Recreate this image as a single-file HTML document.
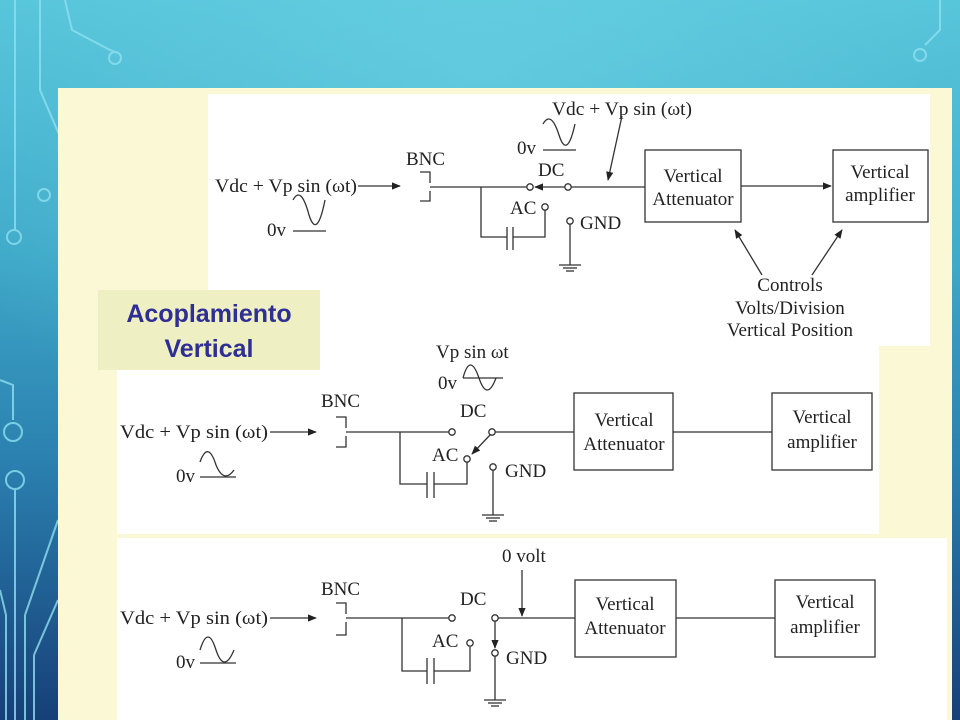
<!DOCTYPE html>
<html><head><meta charset="utf-8"><style>
html,body{margin:0;padding:0;width:960px;height:720px;overflow:hidden}
body{background:linear-gradient(180deg,#55c4da 0%,#3fa9c9 35%,#2a7fae 65%,#173f78 100%);position:relative;font-family:"Liberation Serif",serif}
svg{position:absolute;left:0;top:0}
</style></head><body>
<svg width="960" height="720" viewBox="0 0 960 720">
<defs>
<radialGradient id="glow" cx="0.5" cy="0.1" r="0.6"><stop offset="0" stop-color="#6fd3e4" stop-opacity="0.6"/><stop offset="1" stop-color="#6fd3e4" stop-opacity="0"/></radialGradient>
<marker id="ar" viewBox="0 0 10 10" refX="9" refY="5" markerWidth="7" markerHeight="7" orient="auto"><path d="M0,1 L10,5 L0,9 z" fill="#222"/></marker>
</defs>
<rect width="960" height="720" fill="url(#glow)"/>
<g stroke="#8fe0ef" stroke-width="2" fill="none" opacity="0.8">
<path d="M40 0 V90 L70 160 V720"/><circle cx="44" cy="195" r="6"/>
<path d="M15 0 V230"/><circle cx="14" cy="237" r="7"/>
<path d="M65 0 L72 30 L110 50 L115 52"/><circle cx="115" cy="58" r="6"/>
<path d="M0 380 L13 385 V420"/><circle cx="13" cy="432" r="9"/><circle cx="15" cy="480" r="9"/>
<path d="M15 490 V720 M0 590 L6 615 V720 M25 615 V720 M25 615 L58 520 M34 655 V720 M34 655 L58 600"/>
<path d="M940 0 V30 L925 45"/><circle cx="920" cy="55" r="6"/>
</g>
<rect x="58" y="88" width="894" height="632" fill="#fbf8d6"/>
<rect x="208" y="94" width="722" height="252" fill="#fff"/>
<rect x="117" y="346" width="762" height="188" fill="#fff"/>
<rect x="117" y="538" width="830" height="182" fill="#fff"/>
<rect x="98" y="290" width="222" height="80" fill="#eef0c4"/>
<text x="209" y="322" text-anchor="middle" font-family="Liberation Sans,sans-serif" font-weight="bold" font-size="25" fill="#2e2e94">Acoplamiento</text>
<text x="209" y="357" text-anchor="middle" font-family="Liberation Sans,sans-serif" font-weight="bold" font-size="25" fill="#2e2e94">Vertical</text>

<g font-family="Liberation Serif,serif" font-size="19" fill="#222" stroke="none">
<!-- diagram 1 -->
<text x="215" y="192" textLength="142" lengthAdjust="spacingAndGlyphs">Vdc + Vp sin (ωt)</text>
<text x="267" y="236">0v</text>
<text x="406" y="165">BNC</text>
<text x="552" y="115" textLength="140" lengthAdjust="spacingAndGlyphs">Vdc + Vp sin (ωt)</text>
<text x="517" y="154">0v</text>
<text x="538" y="176">DC</text>
<text x="510" y="214">AC</text>
<text x="580" y="229">GND</text>
<text x="693" y="182" text-anchor="middle">Vertical</text>
<text x="693" y="205" text-anchor="middle">Attenuator</text>
<text x="880" y="178" text-anchor="middle">Vertical</text>
<text x="880" y="201" text-anchor="middle">amplifier</text>
<text x="790" y="291" text-anchor="middle">Controls</text>
<text x="790" y="314" text-anchor="middle">Volts/Division</text>
<text x="790" y="336" text-anchor="middle">Vertical Position</text>
<!-- diagram 2 -->
<text x="436" y="358">Vp sin ωt</text>
<text x="438" y="389">0v</text>
<text x="321" y="407">BNC</text>
<text x="120" y="438" textLength="148" lengthAdjust="spacingAndGlyphs">Vdc + Vp sin (ωt)</text>
<text x="176" y="482">0v</text>
<text x="460" y="417">DC</text>
<text x="432" y="461">AC</text>
<text x="505" y="477">GND</text>
<text x="624" y="426" text-anchor="middle">Vertical</text>
<text x="624" y="450" text-anchor="middle">Attenuator</text>
<text x="822" y="423" text-anchor="middle">Vertical</text>
<text x="822" y="448" text-anchor="middle">amplifier</text>
<!-- diagram 3 -->
<text x="502" y="562">0 volt</text>
<text x="321" y="595">BNC</text>
<text x="120" y="624" textLength="148" lengthAdjust="spacingAndGlyphs">Vdc + Vp sin (ωt)</text>
<text x="176" y="668">0v</text>
<text x="460" y="605">DC</text>
<text x="432" y="647">AC</text>
<text x="506" y="664">GND</text>
<text x="625" y="610" text-anchor="middle">Vertical</text>
<text x="625" y="634" text-anchor="middle">Attenuator</text>
<text x="825" y="608" text-anchor="middle">Vertical</text>
<text x="825" y="633" text-anchor="middle">amplifier</text>
</g>

<g stroke="#333" stroke-width="1.3" fill="none">
<!-- diagram 1 -->
<line x1="358" y1="186" x2="400" y2="186" marker-end="url(#ar)"/>
<path d="M293 200 Q301 185 309 215 Q317 240 325 200"/><line x1="293" y1="231" x2="326" y2="231"/>
<path d="M420 172 H430 V183 M430 191 V201 H420"/>
<line x1="430" y1="187" x2="527" y2="187"/>
<circle cx="530" cy="187" r="3.2" fill="#fff"/><circle cx="568" cy="187" r="3.2" fill="#fff"/>
<line x1="565" y1="187" x2="535" y2="187" marker-end="url(#ar)"/>
<line x1="571" y1="187" x2="645" y2="187"/>
<line x1="622" y1="116" x2="608" y2="180" marker-end="url(#ar)"/>
<path d="M543 124 Q551 110 559 135 Q567 160 575 124"/><line x1="543" y1="150" x2="576" y2="150"/>
<path d="M481 187 V237 H507 M513 237 H545 V210"/><circle cx="545" cy="207" r="3.2" fill="#fff"/>
<line x1="507" y1="227" x2="507" y2="250"/><line x1="513" y1="227" x2="513" y2="250"/>
<circle cx="570" cy="221" r="3.2" fill="#fff"/><line x1="570" y1="224" x2="570" y2="265"/>
<line x1="559" y1="265" x2="581" y2="265"/><line x1="563" y1="268" x2="577" y2="268"/><line x1="566" y1="271" x2="574" y2="271"/>
<rect x="645" y="150" width="96" height="72"/>
<line x1="741" y1="186" x2="831" y2="186" marker-end="url(#ar)"/>
<rect x="833" y="150" width="95" height="72"/>
<line x1="762" y1="275" x2="735" y2="230" marker-end="url(#ar)"/>
<line x1="812" y1="275" x2="842" y2="230" marker-end="url(#ar)"/>
<!-- diagram 2 -->
<path d="M463 378 Q470 352 479 378 Q487 402 496 378"/><line x1="463" y1="378" x2="503" y2="378"/>
<line x1="270" y1="432" x2="316" y2="432" marker-end="url(#ar)"/>
<path d="M200 462 Q208 440 216 465 Q224 484 234 470"/><line x1="200" y1="477" x2="236" y2="477"/>
<path d="M336 417 H346 V428 M346 436 V447 H336"/>
<line x1="346" y1="432" x2="449" y2="432"/>
<circle cx="452" cy="432" r="3.2" fill="#fff"/><circle cx="492" cy="432" r="3.2" fill="#fff"/>
<line x1="490" y1="435" x2="472" y2="454" marker-end="url(#ar)"/>
<line x1="495" y1="432" x2="574" y2="432"/>
<path d="M400 432 V484 H427 M434 484 H467 V462"/><circle cx="467" cy="459" r="3.2" fill="#fff"/>
<line x1="427" y1="472" x2="427" y2="498"/><line x1="434" y1="472" x2="434" y2="498"/>
<circle cx="493" cy="467" r="3.2" fill="#fff"/><line x1="493" y1="470" x2="493" y2="515"/>
<line x1="482" y1="515" x2="504" y2="515"/><line x1="486" y1="518" x2="500" y2="518"/><line x1="489" y1="521" x2="497" y2="521"/>
<rect x="574" y="393" width="99" height="77"/>
<line x1="673" y1="432" x2="772" y2="432"/>
<rect x="772" y="393" width="100" height="77"/>
<!-- diagram 3 -->
<line x1="270" y1="618" x2="316" y2="618" marker-end="url(#ar)"/>
<path d="M200 650 Q208 624 216 650 Q224 674 234 650"/><line x1="200" y1="663" x2="236" y2="663"/>
<path d="M336 603 H346 V614 M346 622 V635 H336"/>
<line x1="346" y1="618" x2="449" y2="618"/>
<circle cx="452" cy="618" r="3.2" fill="#fff"/><circle cx="495" cy="618" r="3.2" fill="#fff"/>
<line x1="498" y1="618" x2="575" y2="618"/>
<line x1="522" y1="570" x2="522" y2="616" marker-end="url(#ar)"/>
<line x1="495" y1="621" x2="495" y2="648" marker-end="url(#ar)"/>
<circle cx="495" cy="653" r="3.2" fill="#fff"/><line x1="495" y1="656" x2="495" y2="700"/>
<line x1="484" y1="700" x2="506" y2="700"/><line x1="488" y1="703" x2="502" y2="703"/><line x1="491" y1="706" x2="499" y2="706"/>
<path d="M402 618 V671 H427 M434 671 H470 V647"/><circle cx="470" cy="643" r="3.2" fill="#fff"/>
<line x1="427" y1="658" x2="427" y2="684"/><line x1="434" y1="658" x2="434" y2="684"/>
<rect x="575" y="580" width="101" height="77"/>
<line x1="676" y1="618" x2="775" y2="618"/>
<rect x="775" y="580" width="100" height="77"/>
</g>
</svg>
</body></html>
